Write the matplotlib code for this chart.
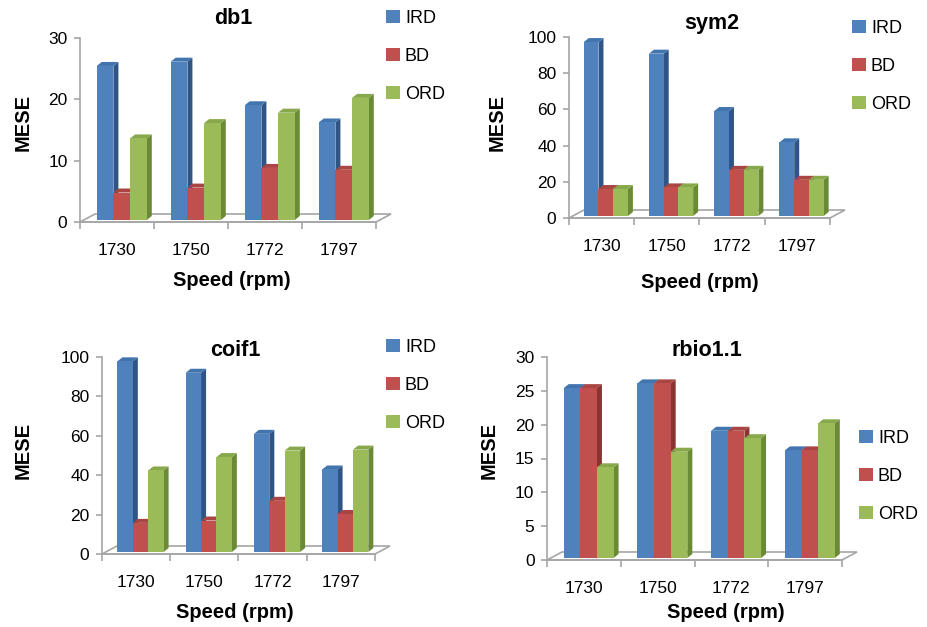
import matplotlib
matplotlib.use("Agg")
from matplotlib import pyplot as plt
from matplotlib.patches import Polygon, Patch
import numpy as np

plt.rcParams['font.family'] = ['Liberation Sans', 'DejaVu Sans']

speeds = ["1730", "1750", "1772", "1797"]
series = ["IRD", "BD", "ORD"]

db1_ird = [25.4, 26.1, 19.0, 16.2]
db1_bd = [4.8, 5.6, 8.8, 8.5]
db1_ord = [13.6, 16.1, 17.8, 20.2]

sym2_ird = [97.2, 90.8, 59.1, 41.8]
sym2_bd = [16, 16.9, 26.6, 21.1]
sym2_ord = [16, 16.9, 26.6, 21.1]

coif1_ird = [97.8, 92, 61, 42.9]
coif1_bd = [15.8, 17, 27, 20.3]
coif1_ord = [42.4, 49.2, 52.5, 53]

rbio_ird = [25.4, 26.1, 19.1, 16.2]
rbio_bd = [25.4, 26.1, 19.1, 16.2]
rbio_ord = [13.7, 16.0, 18.0, 20.2]

front = ["#4F81BD", "#C0504D", "#9BBB59"]
top = ["#4274AE", "#A94542", "#88A84C"]
side = ["#2F5585", "#8B3331", "#6B8A35"]
grey = "#A6A6A6"

W, H = 928, 627
fig = plt.figure(figsize=(W / 100, H / 100), dpi=100)


def fx(x):
    return x / W


def fy(y):
    return 1 - y / H


def panel(title, ird, bd, ordv, ymax, ystep, box, title_xy, ylab_xy, xlab_xy, leg_xy):
    x0, x1, ytop, ybot = box
    ax = fig.add_axes([fx(x0), fy(ybot), fx(x1 - x0), (ybot - ytop) / H])
    ax.set_xlim(-0.5, 3.5)
    ax.set_ylim(0, ymax)
    # pixel -> data conversion
    px_x = 4.0 / (x1 - x0)
    px_y = ymax / (ybot - ytop)

    # floor
    fdx, fdy = 15 * px_x, 8 * px_y
    floor = Polygon([(-0.5, 0), (3.5, 0), (3.5 + fdx, fdy), (-0.5 + fdx, fdy)],
                    closed=True, facecolor="none", edgecolor=grey, lw=1.2,
                    clip_on=False, zorder=1)
    ax.add_patch(floor)

    w = 0.2255
    sdx, sdy = 5 * px_x, 4 * px_y
    b0 = 2 * px_y
    vals = [ird, bd, ordv]
    for i in range(len(speeds)):
        for j in range(3):
            left = i - 0.274 + j * w
            right = left + w
            v = vals[j][i]
            ax.add_patch(Polygon([(right, b0), (right, v), (right + sdx, v + sdy), (right + sdx, b0 + sdy)],
                                 closed=True, facecolor=side[j], edgecolor="none", zorder=2,
                                 clip_on=False))
            ax.add_patch(Polygon([(left, v), (right, v), (right + sdx, v + sdy), (left + sdx, v + sdy)],
                                 closed=True, facecolor=top[j], edgecolor="none", zorder=2,
                                 clip_on=False))
            ax.bar(left, v - b0, bottom=b0, width=w, align="edge", color=front[j],
                   edgecolor="none", zorder=2, clip_on=False)

    for s in ["top", "right"]:
        ax.spines[s].set_visible(False)
    ax.spines["left"].set_color(grey)
    ax.spines["bottom"].set_color(grey)
    ax.spines["left"].set_linewidth(1.2)
    ax.spines["bottom"].set_linewidth(1.2)
    ax.set_yticks(np.arange(0, ymax + 0.1, ystep))
    ax.set_yticklabels([f"{t:g}" for t in np.arange(0, ymax + 0.1, ystep)])
    ax.tick_params(axis="y", length=4, color=grey, width=1.2, pad=5, labelsize=12.5)
    ax.set_xticks(range(len(speeds)))
    ax.set_xticklabels(speeds)
    ax.set_xticks(np.arange(-0.5, 3.6, 1), minor=True)
    ax.tick_params(axis="x", which="major", length=0, pad=15, labelsize=12.5)
    ax.tick_params(axis="x", which="minor", length=5, color=grey, width=1.2)

    fig.text(fx(title_xy[0]), fy(title_xy[1]), title, ha="center", va="center",
             fontsize=15.5, fontweight="bold")
    fig.text(fx(ylab_xy[0]), fy(ylab_xy[1]), "MESE", ha="center", va="center",
             rotation=90, fontsize=14.5, fontweight="bold")
    fig.text(fx(xlab_xy[0]), fy(xlab_xy[1]), "Speed (rpm)", ha="center", va="center",
             fontsize=14.5, fontweight="bold")

    handles = [Patch(facecolor=front[k], edgecolor="none") for k in range(3)]
    ax.legend(handles, series, loc="upper left", bbox_to_anchor=(fx(leg_xy[0]), fy(leg_xy[1])),
              bbox_transform=fig.transFigure, frameon=False, fontsize=13,
              handlelength=0.75, handleheight=0.75, handletextpad=0.3,
              labelspacing=1.15, borderpad=0, borderaxespad=0)
    return ax


panel("db1", db1_ird, db1_bd, db1_ord, 30, 10, (80, 376, 37.7, 222),
      (233, 19), (23, 122), (232, 280), (386, 10))
panel("sym2", sym2_ird, sym2_bd, sym2_ord, 100, 20, (569, 830, 37, 218),
      (712, 23), (497, 122), (700, 282), (852, 20))
panel("coif1", coif1_ird, coif1_bd, coif1_ord, 100, 20, (102, 375, 357, 554),
      (235, 351), (23, 450), (235, 613), (386, 339))
panel("rbio1.1", rbio_ird, rbio_bd, rbio_ord, 30, 5, (547, 842, 357, 560),
      (707, 351), (489, 450), (726, 613), (859, 430))

fig.savefig("out.png", dpi=100)
